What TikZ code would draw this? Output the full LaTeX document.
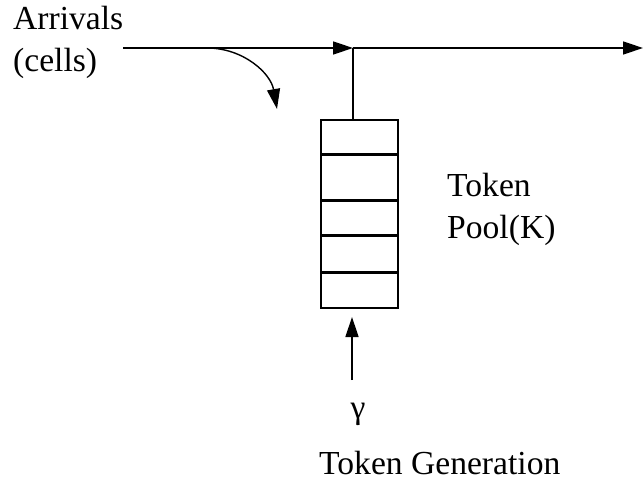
\documentclass[tikz,border=0pt]{standalone}
\usepackage{fontspec}
\setmainfont{Liberation Serif}
\usetikzlibrary{arrows.meta}
\begin{document}
\begin{tikzpicture}[x=1pt,y=-1pt,
  lbl/.style={font=\fontsize{33.6}{40}\selectfont, inner sep=0pt, anchor=base west},
  conn/.style={line width=1.4pt},
  arr/.style={conn,-{Triangle[length=20pt,width=13pt]}},
  cell/.style={draw, line width=1.6pt, minimum width=77pt, inner sep=0pt, anchor=north west}]
\useasboundingbox (0,0) rectangle (643,481);
% texts
\node[lbl] (arr1) at (13,30) {Arrivals};
\node[lbl] (arr2) at (13,72) {(cells)};
\node[lbl] (tok1) at (447,197) {Token};
\node[lbl] (tok2) at (447,239) {Pool(K)};
\node[lbl, anchor=base] (gam) at (358,418) {γ};
\node[lbl] (gen) at (319,474) {Token Generation};
% main line
\coordinate (A) at (123,48);
\coordinate (J) at (353,48);
\coordinate (E) at (643,48);
\coordinate (C0) at (207,48);
\coordinate (C1) at (277,109);
\draw[arr] (A) -- (J);
\draw[arr] (J) -- (E);
\draw[arr] (C0) to[out=0,in=100] (C1);
% token pool
\node[cell, minimum height=34pt] (c1) at (320,119) {};
\node[cell, minimum height=44pt] (c2) at (c1.south west) {};
\node[cell, minimum height=34pt] (c3) at (c2.south west) {};
\node[cell, minimum height=35pt] (c4) at (c3.south west) {};
\node[cell, minimum height=35pt] (c5) at (c4.south west) {};
\draw[conn] (J) -- (J |- c1.north);
% generation arrow
\coordinate (G) at (352,380);
\draw[arr, shorten >=8pt] (G) -- (G |- c5.south);
\end{tikzpicture}
\end{document}
